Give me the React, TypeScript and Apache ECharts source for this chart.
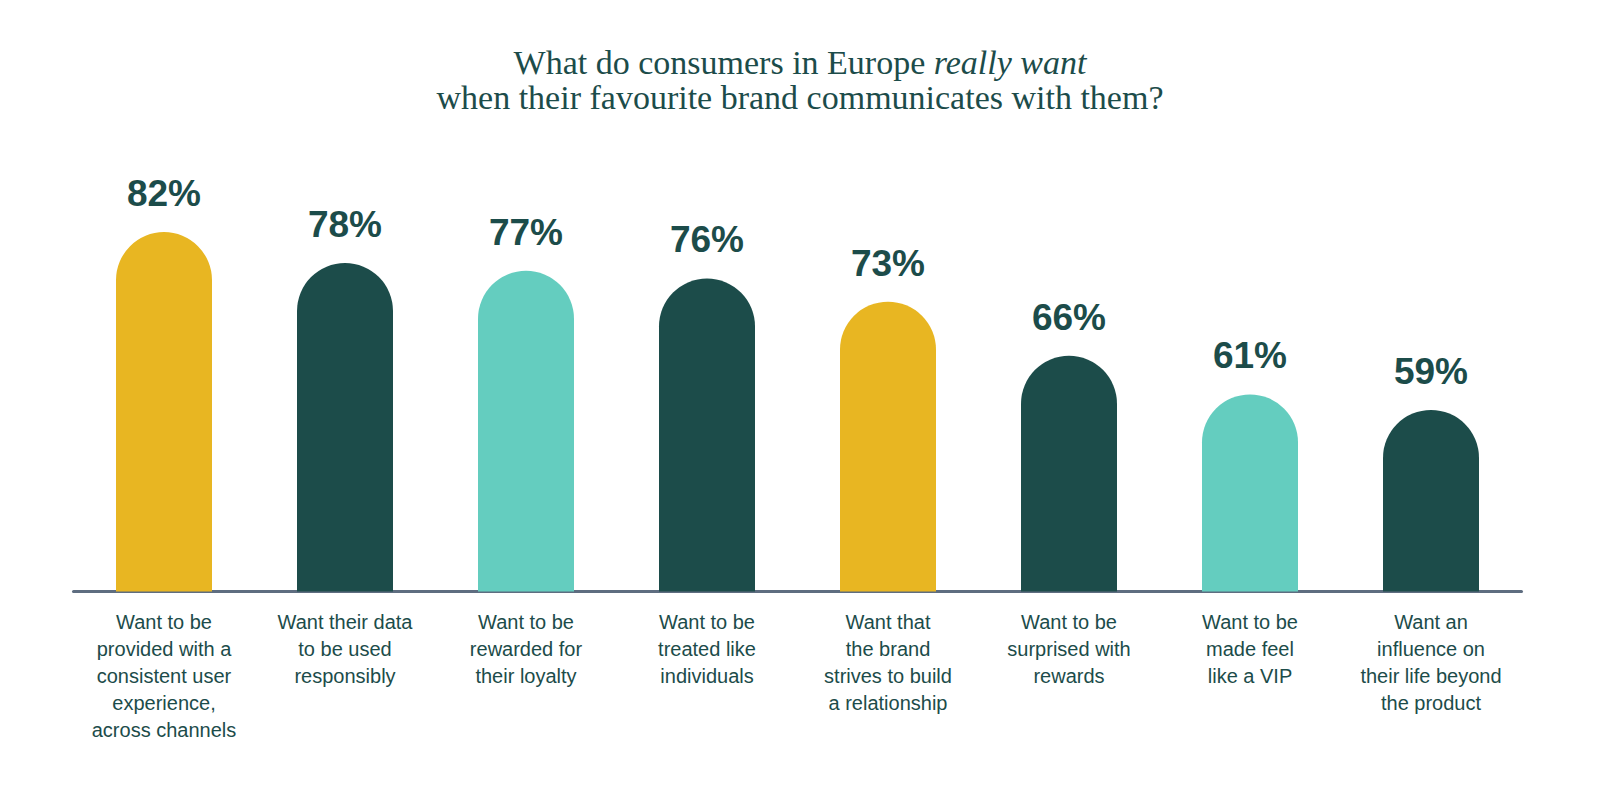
import React, { useEffect, useRef } from "react";
import * as echarts from "echarts";

const categories = [
  "Want to be\nprovided with a\nconsistent user\nexperience,\nacross channels",
  "Want their data\nto be used\nresponsibly",
  "Want to be\nrewarded for\ntheir loyalty",
  "Want to be\ntreated like\nindividuals",
  "Want that\nthe brand\nstrives to build\na relationship",
  "Want to be\nsurprised with\nrewards",
  "Want to be\nmade feel\nlike a VIP",
  "Want an\ninfluence on\ntheir life beyond\nthe product",
];
const values = [82, 78, 77, 76, 73, 66, 61, 59];
const barColors = ["#E8B622", "#1C4C4A", "#64CDBF", "#1C4C4A", "#E8B622", "#1C4C4A", "#64CDBF", "#1C4C4A"];
const titleLine1 = "What do consumers in Europe ";
const titleItalic = "really want";
const titleLine2 = "when their favourite brand communicates with them?";

const TEAL = "#1C4C4A";

export default function App() {
  const ref = useRef<HTMLDivElement>(null);
  useEffect(() => {
    if (!ref.current) return;
    const chart = echarts.init(ref.current, null, { renderer: "svg" });
    chart.setOption({
      animation: false,
      backgroundColor: "#ffffff",
      graphic: [
        {
          type: "text",
          x: 800,
          y: 45,
          style: {
            text: `{n|${titleLine1}}{i|${titleItalic}}\n{n|${titleLine2}}`,
            align: "center",
            verticalAlign: "top",
            rich: {
              n: { fontFamily: "Liberation Serif", fontSize: 34, fontWeight: "normal", fill: TEAL, color: TEAL, lineHeight: 35 },
              i: { fontFamily: "Liberation Serif", fontSize: 34, fontWeight: "normal", fontStyle: "italic", fill: TEAL, color: TEAL, lineHeight: 35 },
            },
          },
        },
      ],
      grid: { left: 73.5, right: 78.5, top: 93, bottom: 200.5, containLabel: false },
      xAxis: {
        type: "category",
        data: categories,
        axisLine: { show: true, lineStyle: { color: "#5E6D80", width: 3 } },
        axisTick: { show: false },
        axisLabel: {
          interval: 0,
          margin: 17,
          color: TEAL,
          fontFamily: "Liberation Sans",
          fontSize: 20,
          lineHeight: 27,
          align: "center",
        },
      },
      yAxis: {
        type: "value",
        min: 35.5,
        max: 100,
        show: false,
        splitLine: { show: false },
      },
      series: [
        {
          type: "bar",
          barWidth: 96,
          data: values.map((v, i) => ({ value: v, itemStyle: { color: barColors[i] } })),
          itemStyle: { borderRadius: [48, 48, 0, 0] },
          label: {
            show: true,
            position: "top",
            distance: 20,
            formatter: "{c}%",
            color: TEAL,
            fontFamily: "Liberation Sans",
            fontWeight: "bold",
            fontSize: 37,
            lineHeight: 37,
          },
        },
      ],
    });
    return () => chart.dispose();
  }, []);
  return <div ref={ref} style={{ position: "fixed", left: 0, top: 0, width: 1600, height: 792 }} />;
}
